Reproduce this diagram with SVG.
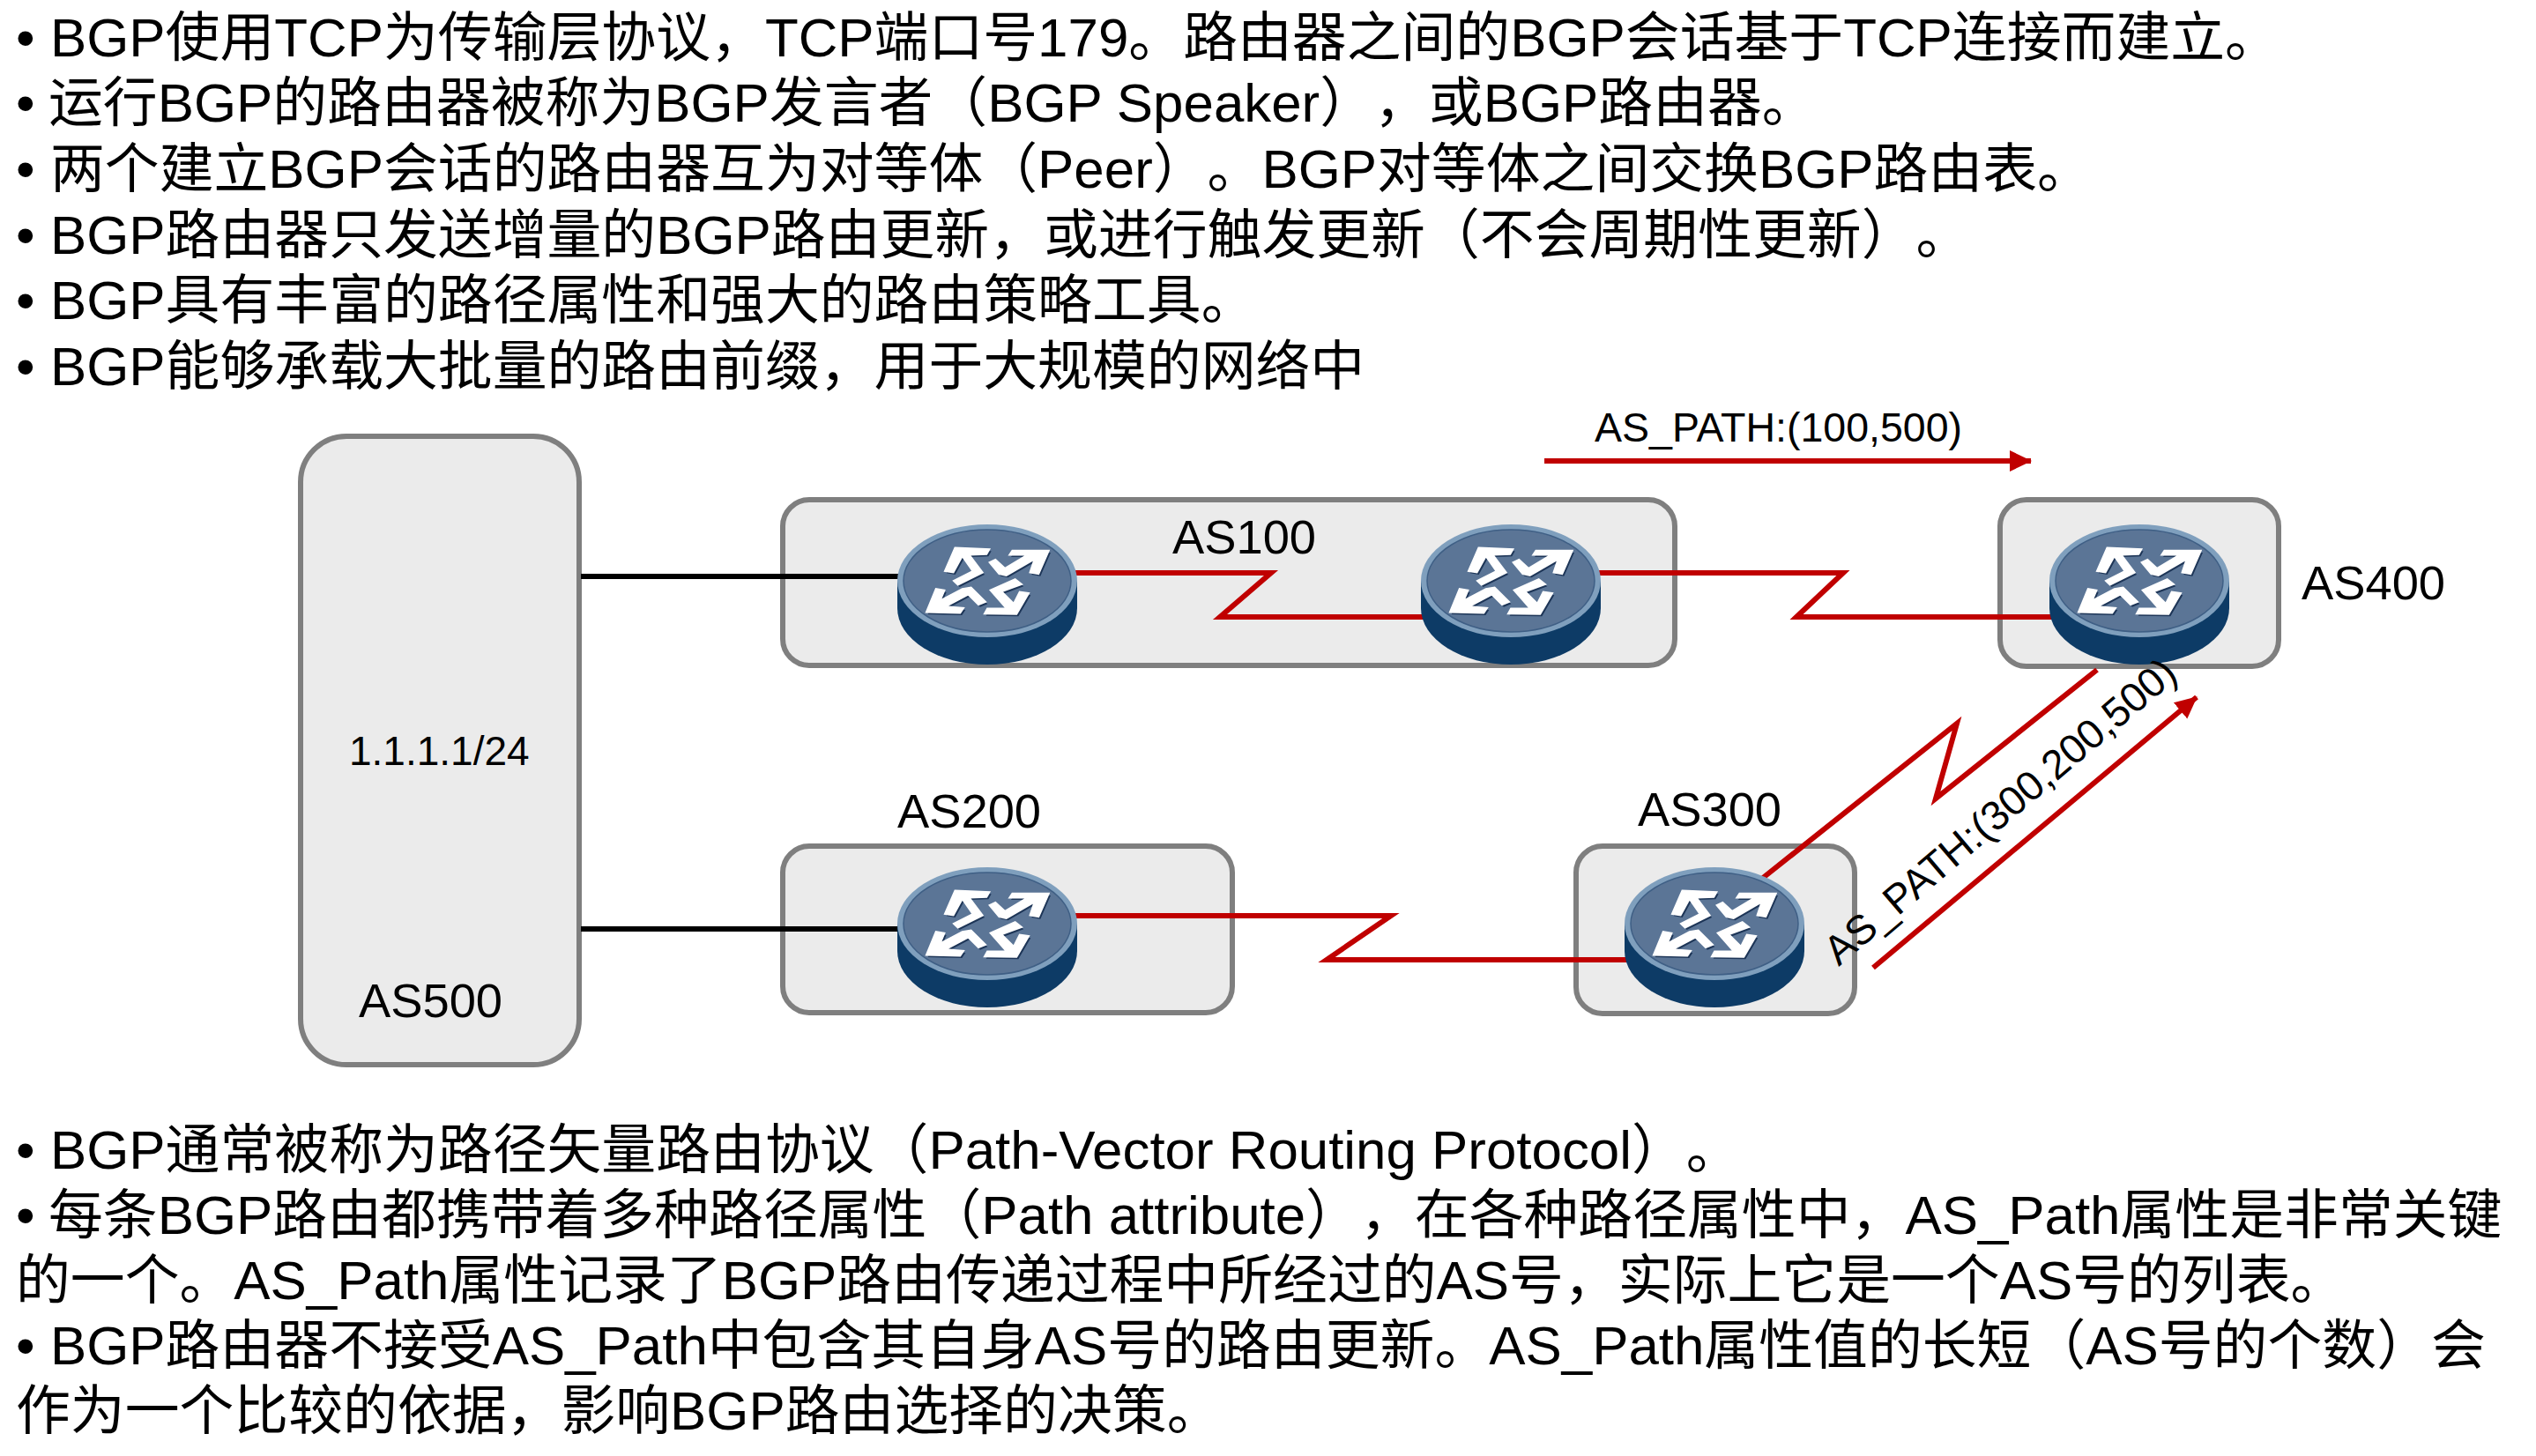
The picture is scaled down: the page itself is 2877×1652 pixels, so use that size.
<svg xmlns="http://www.w3.org/2000/svg" xmlns:xlink="http://www.w3.org/1999/xlink" width="2877" height="1652" viewBox="0 0 2877 1652">
<style>
text{font-family:"Liberation Sans","Noto Sans CJK SC",sans-serif;fill:#000;text-spacing-trim:space-all}
.body{font-size:61.85px}
.lbl{font-size:54.3px}
.sm{font-size:46.5px}
.box{fill:#ebebeb;stroke:#7f7f7f;stroke-width:6}
.red{fill:none;stroke:#c00000;stroke-width:6;stroke-miterlimit:20}
.blk{fill:none;stroke:#000;stroke-width:6}
.arr{fill:none;stroke:#c00000;stroke-width:6}
</style>
<defs>
<marker id="head" markerUnits="userSpaceOnUse" markerWidth="26" markerHeight="26" refX="24" refY="13" orient="auto"><path d="M0 1L25 13L0 25Z" fill="#c00000"/></marker>
<g id="router">
<path d="M-102 0V31A102 64 0 0 0 102 31V0Z" fill="#0d3b66"/>
<ellipse rx="102" ry="64" fill="#7f9fbd"/>
<ellipse rx="95" ry="58" fill="#5b7596"/>
<ellipse rx="95" ry="58" fill="none" stroke="#3f5f85" stroke-width="1.5"/>
<g transform="scale(.3333) translate(-480 -268)">
<g fill="#1d3557" transform="translate(6 7)"><path d="M370 155L488 160L478 178L420 180L465 240L380 282L365 268L430 235L395 185L365 240L335 235Z"/><path d="M690 165L655 245L625 240L640 195L545 250L520 245L487 205L508 195L540 225L615 180L555 180L565 165Z"/><path d="M272 375L388 378L400 360L340 355L415 315L450 350L475 340L425 290L395 295L320 335L335 300L305 295Z"/><path d="M470 380L580 382L622 310L590 305L570 345L530 305L598 280L575 262L490 300L545 362L480 362Z"/></g>
<g fill="#fff" stroke="#fff" stroke-width="5"><path d="M370 155L488 160L478 178L420 180L465 240L380 282L365 268L430 235L395 185L365 240L335 235Z"/><path d="M690 165L655 245L625 240L640 195L545 250L520 245L487 205L508 195L540 225L615 180L555 180L565 165Z"/><path d="M272 375L388 378L400 360L340 355L415 315L450 350L475 340L425 290L395 295L320 335L335 300L305 295Z"/><path d="M470 380L580 382L622 310L590 305L570 345L530 305L598 280L575 262L490 300L545 362L480 362Z"/></g>
</g>
</g>
</defs>
<rect width="2877" height="1652" fill="#fff"/>
<g id="top-text">
<text class="body" y="64"><tspan x="18">•</tspan><tspan x="57">BGP使用TCP为传输层协议，TCP端口号179。路由器之间的BGP会话基于TCP连接而建立。</tspan></text>
<text class="body" y="138"><tspan x="18">•</tspan><tspan x="55">运行BGP的路由器被称为BGP发言者（BGP Speaker），或BGP路由器。</tspan></text>
<text class="body" y="213"><tspan x="18">•</tspan><tspan x="57">两个建立BGP会话的路由器互为对等体（Peer）。BGP对等体之间交换BGP路由表。</tspan></text>
<text class="body" y="288"><tspan x="18">•</tspan><tspan x="57">BGP路由器只发送增量的BGP路由更新，或进行触发更新（不会周期性更新）。</tspan></text>
<text class="body" y="362"><tspan x="18">•</tspan><tspan x="57">BGP具有丰富的路径属性和强大的路由策略工具。</tspan></text>
<text class="body" y="437"><tspan x="18">•</tspan><tspan x="57">BGP能够承载大批量的路由前缀，用于大规模的网络中</tspan></text>
</g>
<g id="as500"><rect class="box" x="341" y="495" width="316" height="713" rx="52" ry="52"/><text style="font-size:46px" x="396" y="868">1.1.1.1/24</text><text class="lbl" x="407" y="1154">AS500</text></g>
<g id="as100"><rect class="box" x="888" y="567" width="1012" height="188" rx="30" ry="30"/><text class="lbl" x="1330" y="628">AS100</text></g>
<g id="as400"><rect class="box" x="2269" y="567" width="316" height="189" rx="30" ry="30"/><text class="lbl" x="2611" y="680">AS400</text></g>
<g id="as200"><rect class="box" x="888" y="960" width="510" height="189" rx="30" ry="30"/><text class="lbl" x="1018" y="939">AS200</text></g>
<g id="as300"><rect class="box" x="1788" y="960" width="316" height="190" rx="30" ry="30"/><text class="lbl" x="1858" y="937">AS300</text></g>
<g id="connectors">
<path class="blk" d="M659 654H1020"/>
<path class="blk" d="M659 1054H1020"/>
<path class="red" d="M1220 650H1442L1384 700H1615"/>
<path class="red" d="M1813 650H2091L2038 700H2330"/>
<path class="red" d="M1220 1039H1578L1505 1089H1846"/>
<path class="red" d="M2000 996L2220 821L2196 906L2379 760"/>
<path class="arr" d="M1752 523H2304" marker-end="url(#head)"/>
<path class="arr" d="M2125 1098L2492 791" marker-end="url(#head)"/>
</g>
<g id="r1"><use xlink:href="#router" href="#router" x="1120" y="659"/></g>
<g id="r2"><use xlink:href="#router" href="#router" x="1714" y="659"/></g>
<g id="r3"><use xlink:href="#router" href="#router" x="2427" y="659"/></g>
<g id="r4"><use xlink:href="#router" href="#router" x="1120" y="1048"/></g>
<g id="r5"><use xlink:href="#router" href="#router" x="1945" y="1048"/></g>
<g id="path-labels">
<text class="sm" x="1809" y="501">AS_PATH:(100,500)</text>
<text class="sm" transform="translate(2086 1097) rotate(-40.4)">AS_PATH:(300,200,500)</text>
</g>
<g id="bottom-text">
<text class="body" y="1326"><tspan x="18">•</tspan><tspan x="57">BGP通常被称为路径矢量路由协议（Path-Vector Routing Protocol）。</tspan></text>
<text class="body" y="1400"><tspan x="18">•</tspan><tspan x="55">每条BGP路由都携带着多种路径属性（Path attribute），在各种路径属性中，AS_Path属性是非常关键</tspan></text>
<text class="body" x="18" y="1474">的一个。AS_Path属性记录了BGP路由传递过程中所经过的AS号，实际上它是一个AS号的列表。</text>
<text class="body" y="1548"><tspan x="18">•</tspan><tspan x="57">BGP路由器不接受AS_Path中包含其自身AS号的路由更新。AS_Path属性值的长短（AS号的个数）会</tspan></text>
<text class="body" x="18" y="1622">作为一个比较的依据，影响BGP路由选择的决策。</text>
</g>
</svg>
